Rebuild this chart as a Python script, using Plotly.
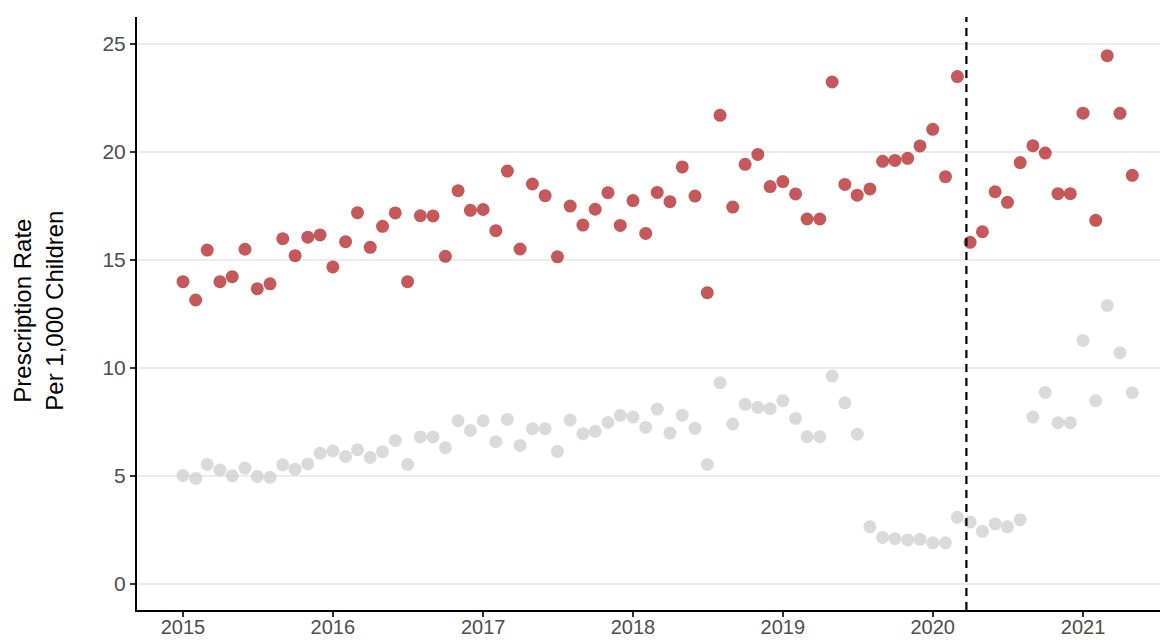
import pandas as pd
import plotly.graph_objects as go

# Monthly dates Jan 2015 - May 2021
months = pd.date_range("2015-01-01", "2021-05-01", freq="MS")

# Prescription rate per 1,000 children (red series)
red_rate = [
    14.0, 13.15, 15.46, 14.0, 14.23, 15.5, 13.67, 13.9, 15.99, 15.2, 16.06, 16.16,   # 2015
    14.68, 15.85, 17.19, 15.59, 16.56, 17.18, 14.0, 17.05, 17.04, 15.17, 18.21, 17.3,  # 2016
    17.34, 16.36, 19.12, 15.51, 18.52, 17.98, 15.15, 17.5, 16.62, 17.35, 18.12, 16.6,  # 2017
    17.75, 16.23, 18.13, 17.7, 19.31, 17.96, 13.49, 21.7, 17.45, 19.43, 19.89, 18.4,   # 2018
    18.63, 18.06, 16.9, 16.9, 23.24, 18.5, 18.0, 18.29, 19.57, 19.61, 19.71, 20.28,    # 2019
    21.05, 18.86, 23.49, 15.82, 16.31, 18.16, 17.67, 19.51, 20.29, 19.95, 18.07, 18.07,  # 2020
    21.8, 16.84, 24.46, 21.79, 18.92,                                                  # 2021
]

# Comparison series (grey)
grey_rate = [
    5.03, 4.89, 5.54, 5.28, 5.01, 5.37, 4.98, 4.94, 5.52, 5.32, 5.56, 6.06,
    6.16, 5.91, 6.22, 5.86, 6.13, 6.65, 5.54, 6.81, 6.81, 6.31, 7.56, 7.11,
    7.56, 6.59, 7.62, 6.42, 7.19, 7.19, 6.14, 7.59, 6.96, 7.07, 7.48, 7.81,
    7.73, 7.25, 8.10, 6.99, 7.82, 7.21, 5.54, 9.32, 7.41, 8.32, 8.18, 8.12,
    8.49, 7.67, 6.82, 6.82, 9.63, 8.39, 6.94, 2.65, 2.16, 2.10, 2.04, 2.07,
    1.91, 1.91, 3.09, 2.87, 2.44, 2.79, 2.65, 2.98, 7.73, 8.87, 7.47, 7.47,
    11.28, 8.49, 12.89, 10.71, 8.86,
]

lockdown_date = "2020-03-23"
y_ticks = [0, 5, 10, 15, 20, 25]
x_ticks = ["2015-01-01", "2016-01-01", "2017-01-01", "2018-01-01",
           "2019-01-01", "2020-01-01", "2021-01-01"]
x_tick_labels = ["2015", "2016", "2017", "2018", "2019", "2020", "2021"]
y_title = "Prescription Rate<br>Per 1,000 Children"

fig = go.Figure()
fig.add_trace(go.Scatter(
    x=months, y=grey_rate, mode="markers",
    marker=dict(size=13, color="rgba(205,205,205,0.75)", line=dict(width=0)),
    showlegend=False,
))
fig.add_trace(go.Scatter(
    x=months, y=red_rate, mode="markers",
    marker=dict(size=13, color="rgba(178,34,34,0.75)", line=dict(width=0)),
    showlegend=False,
))

fig.add_shape(type="line", xref="x", yref="paper",
              x0=lockdown_date, x1=lockdown_date, y0=0, y1=1,
              line=dict(color="black", width=2.2, dash="8px,6px"))

fig.add_annotation(text=y_title, xref="paper", yref="paper",
                   x=-0.0955, y=0.504, xanchor="center", yanchor="middle",
                   textangle=-90, showarrow=False,
                   font=dict(size=24, color="black"))

fig.update_layout(
    width=1160, height=632,
    margin=dict(l=129, r=0, t=9, b=30),
    paper_bgcolor="white", plot_bgcolor="white",
    font=dict(family="Liberation Sans, Arial, sans-serif"),
    xaxis=dict(
        range=["2014-09-11", "2021-07-27"],
        tickvals=x_ticks, ticktext=x_tick_labels,
        showgrid=False, zeroline=False, automargin=False,
        showline=True, linecolor="black", linewidth=2,
        ticks="outside", ticklen=5, tickwidth=1.5, tickcolor="#333333",
        ticklabelstandoff=-7,
        tickfont=dict(size=20, color="#4d4d4d"),
    ),
    yaxis=dict(
        range=[-1.2, 26.25],
        tickvals=y_ticks, automargin=False,
        showgrid=True, gridcolor="#EBEBEB", gridwidth=1.5,
        zeroline=False,
        showline=True, linecolor="black", linewidth=2,
        ticks="outside", ticklen=5, tickwidth=1.5, tickcolor="#333333",
        tickfont=dict(size=21, color="#4d4d4d"),
    ),
)

fig.write_html("out.html")
